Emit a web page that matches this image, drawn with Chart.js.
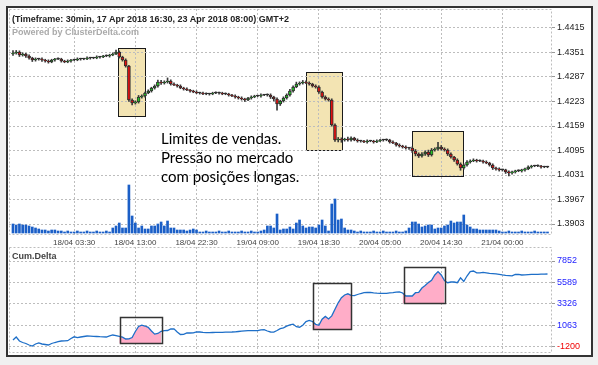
<!DOCTYPE html>
<html>
<head>
<meta charset="utf-8">
<script src="https://cdn.jsdelivr.net/npm/chart.js@4.4.1/dist/chart.umd.min.js"></script>
<style>
  html, body { margin: 0; padding: 0; background: #f0f0f0; }
  #wrap { position: relative; width: 598px; height: 365px; overflow: hidden; }
  #frame { position: absolute; left: 6px; top: 6px; width: 587px; height: 351px;
           box-sizing: border-box; border: 2px solid #333; background: #fff; }
  canvas { position: absolute; left: 0; }
  #top { top: 0; }
  #bottom { top: 240px; }
  .lbl { position: absolute; white-space: nowrap; font-family: "Liberation Sans", Arial, sans-serif;
         font-size: 9px; font-weight: bold; }
  #note { position: absolute; left: 161px; top: 129px; font-family: Lato, "Open Sans", sans-serif;
          font-size: 15px; line-height: 19px; color: #000; white-space: nowrap; }
</style>
</head>
<body>
<div id="wrap">
  <div id="frame"></div>
  <canvas id="top" width="598" height="250"></canvas>
  <canvas id="bottom" width="598" height="117"></canvas>
  <div class="lbl" style="left:12px; top:14px; color:#222;">(Timeframe: 30min, 17 Apr 2018 16:30, 23 Apr 2018 08:00) GMT+2</div>
  <div class="lbl" style="left:12px; top:27px; color:#aaa;">Powered by ClusterDelta.com</div>
  <div class="lbl" style="left:12px; top:251px; color:#444;">Cum.Delta</div>
  <div id="note">Limites de vendas.<br>Pressão no mercado<br>com posições longas.</div>
</div>
<script>
// time axis labels (bar index -> label)
const xTickIdx = [19, 38, 57, 76, 95, 114, 133, 152];
const xTickLabels = ["18/04 03:30", "18/04 13:00", "18/04 22:30", "19/04 09:00",
                     "19/04 18:30", "20/04 05:00", "20/04 14:30", "21/04 00:00"];
const priceTicks = [1.3903, 1.3967, 1.4031, 1.4095, 1.4159, 1.4223, 1.4287, 1.4351, 1.4415];
const deltaTicks = [-1200, 1063, 3326, 5589, 7852];

// 30 min candles
const firstOpen = 1.43471;
const closes = [
  1.43497,1.43523,1.43445,1.43471,1.43419,1.43366,1.43314,1.43340,1.43340,1.43314,
  1.43288,1.43262,1.43314,1.43340,1.43340,1.43288,1.43262,1.43288,1.43314,1.43314,
  1.43340,1.43340,1.43340,1.43366,1.43366,1.43366,1.43393,1.43393,1.43419,1.43419,
  1.43445,1.43471,1.43523,1.43393,1.43314,1.43157,1.42270,1.42192,1.42218,1.42348,
  1.42374,1.42453,1.42505,1.42583,1.42635,1.42740,1.42714,1.42740,1.42766,1.42687,
  1.42661,1.42635,1.42583,1.42557,1.42531,1.42505,1.42479,1.42453,1.42453,1.42426,
  1.42426,1.42426,1.42453,1.42453,1.42453,1.42426,1.42426,1.42400,1.42374,1.42348,
  1.42322,1.42296,1.42270,1.42322,1.42348,1.42374,1.42374,1.42400,1.42400,1.42400,
  1.42348,1.42296,1.42166,1.42244,1.42322,1.42400,1.42505,1.42609,1.42687,1.42714,
  1.42740,1.42714,1.42687,1.42635,1.42609,1.42479,1.42348,1.42296,1.42270,1.41616,
  1.41224,1.41251,1.41224,1.41251,1.41224,1.41277,1.41224,1.41198,1.41198,1.41172,
  1.41198,1.41198,1.41172,1.41198,1.41224,1.41224,1.41224,1.41172,1.41146,1.41094,
  1.41068,1.41042,1.41016,1.41016,1.40937,1.40859,1.40807,1.40859,1.40911,1.40833,
  1.40963,1.40990,1.41042,1.40990,1.40963,1.40859,1.40781,1.40703,1.40598,1.40494,
  1.40572,1.40650,1.40677,1.40703,1.40677,1.40677,1.40650,1.40624,1.40572,1.40494,
  1.40468,1.40442,1.40442,1.40390,1.40364,1.40390,1.40416,1.40416,1.40442,1.40468,
  1.40520,1.40546,1.40546,1.40546,1.40520,1.40520,1.40520];
// wick lengths in pips above / below the body
const wickUp = [
  6,4,3,3,2,3,2,3,2,3, 2,3,2,2,3,2,2,3,2,2, 3,2,2,3,2,2,3,2,2,3, 2,3,5,3,2,3,2,3,3,4,
  3,2,3,2,3,5,4,3,8,3, 3,2,3,2,3,2,2,3,2,2, 3,2,2,3,2,2,3,2,2,3, 2,3,2,2,3,2,2,3,2,3,
  3,2,3,2,3,3,4,3,5,3, 4,3,3,2,3,3,2,3,3,3, 3,4,3,2,5,3,2,3,2,2, 3,2,2,3,2,2,3,2,3,2,
  3,2,3,2,3,4,3,4,3,5, 4,3,12,4,3,3,3,2,3,3, 3,4,3,3,2,3,2,3,2,3, 2,3,2,2,3,2,2,3,2,2,
  3,2,2,3,2,2,2];
const wickDn = [
  4,3,4,3,4,3,4,3,3,4, 3,3,2,3,2,3,2,2,3,2, 2,3,2,2,3,2,2,3,2,2, 3,2,2,3,3,3,4,5,3,3,
  3,3,2,3,3,3,4,3,3,3, 2,3,2,3,2,3,2,2,3,2, 2,3,2,2,3,2,2,3,2,3, 3,3,4,2,3,2,2,3,2,3,
  4,5,16,4,3,3,3,3,2,3, 3,2,3,3,3,4,3,3,3,3, 4,5,6,3,3,3,2,3,3,2, 3,2,3,2,2,3,2,3,2,3,
  3,3,3,4,4,5,4,3,4,4, 3,3,3,3,3,4,3,4,3,6, 3,3,3,2,3,2,3,2,3,4, 3,3,3,4,8,3,3,2,3,3,
  2,3,2,2,3,2,2];
const volumes = [
  180,160,180,160,160,140,120,100,80,60, 60,40,60,60,40,40,20,40,20,20,
  40,20,20,40,20,20,40,20,20,40, 20,100,140,200,100,100,960,340,200,100,
  140,80,80,140,140,180,220,140,240,100, 100,60,60,60,40,60,80,60,20,20,
  40,20,20,20,40,20,20,40,20,20, 20,40,20,20,40,20,20,40,60,140,
  140,100,380,60,80,80,120,80,200,260, 140,100,120,120,100,160,260,140,40,580,
  680,260,280,100,60,60,40,20,40,20, 20,20,40,20,20,40,20,20,20,40,
  20,20,40,100,220,220,180,120,140,160, 160,80,100,100,140,160,240,200,220,220,
  360,160,120,80,80,60,60,60,60,60, 60,40,20,20,40,20,20,20,40,20,
  20,20,40,20,20,20,20];
const cumDelta = [
  -464,-148,-569,-727,-832,-990,-1095,-884,-779,-884,
  -937,-990,-832,-727,-642,-569,-548,-537,-306,-127,
  -211,-148,-95,-42,-63,-85,-95,-116,-127,-148,
  -42,63,0,-74,-169,-358,-337,-200,431,958,
  1094,1010,873,484,158,221,452,516,537,695,
  716,379,116,126,273,273,284,400,379,337,
  305,316,326,337,347,347,358,368,379,400,
  431,463,495,516,516,516,516,610,620,484,
  379,358,537,737,821,1000,1137,1210,937,884,
  1094,1473,1600,1484,1189,1084,1726,2021,1758,2073,
  2779,3452,3989,4273,4400,4231,4210,4326,4431,4515,
  4536,4557,4505,4463,4452,4452,4452,4494,4526,4568,
  4610,4484,4168,4168,4168,4515,4557,5010,5284,5579,
  5810,6379,6736,6379,5789,5568,5642,5642,5568,6085,
  5695,6273,6726,6800,6600,6610,6663,6610,6557,6526,
  6494,6442,6389,6347,6315,6284,6431,6442,6378,6399,
  6420,6442,6452,6452,6463,6473,6484];

// highlighted zones (bar index range, value range)
const priceBoxes = [
  { from: 32.6, to: 41.0, low: 1.41853, high: 1.43628 },
  { from: 91.0, to: 102.3, low: 1.40963, high: 1.43001 },
  { from: 123.9, to: 139.8, low: 1.40283, high: 1.41461 }
];
const deltaBoxes = [
  { from: 33.2, to: 46.3, low: -811, high: 1989 },
  { from: 93.2, to: 104.9, low: 662, high: 5503 },
  { from: 121.4, to: 134.2, low: 3400, high: 7188 }
];

Chart.defaults.font.family = "'Liberation Sans', Arial, sans-serif";
Chart.defaults.font.size = 9;

const opens = closes.map((c, i) => (i === 0 ? firstOpen : closes[i - 1]));
const PIP = 0.0001;
const GRID = '#bdbdbd';

function xAxis(showLabels) {
  return {
    type: 'linear', min: -1.24, max: 167.4, offset: false,
    grid: { color: GRID, offset: false, drawTicks: false },
    border: { display: false, dash: [2, 2] },
    afterBuildTicks: s => { s.ticks = xTickIdx.map(v => ({ value: v })); },
    afterFit: s => { s.height = showLabels ? 15 : 0; s.paddingLeft = 0; s.paddingRight = 0; },
    ticks: {
      display: showLabels, autoSkip: false, maxRotation: 0, padding: 3,
      color: '#444', font: { size: 8 },
      callback: v => xTickLabels[xTickIdx.indexOf(v)]
    }
  };
}

function yRight(min, max, values, fmt, color) {
  return {
    type: 'linear', position: 'right', min, max,
    grid: { color: GRID, drawTicks: true, tickLength: 3, tickColor: '#999' },
    border: { display: false, dash: [2, 2] },
    afterBuildTicks: s => { s.ticks = values.map(v => ({ value: v })); },
    afterFit: s => { s.width = 46; s.paddingTop = 0; s.paddingBottom = 0; },
    ticks: { padding: 2, color, callback: fmt }
  };
}

function frameRect(ctx, a) {
  ctx.save();
  ctx.setLineDash([2, 2]);
  ctx.strokeStyle = GRID;
  ctx.lineWidth = 1;
  ctx.strokeRect(a.left + 0.5, a.top + 0.5, a.width - 1, a.height - 1);
  ctx.restore();
}

function boxPx(b, x, y) {
  const l = Math.round(x.getPixelForValue(b.from));
  const r = Math.round(x.getPixelForValue(b.to));
  const t = Math.round(y.getPixelForValue(b.high));
  const bt = Math.round(y.getPixelForValue(b.low));
  return { l, r, t, bt };
}

const priceZones = {
  id: 'priceZones',
  beforeDraw(chart) {
    const { ctx, chartArea, scales: { x, y } } = chart;
    ctx.save();
    priceBoxes.forEach(b => {
      const p = boxPx(b, x, y);
      ctx.fillStyle = '#f3e4b3';
      ctx.fillRect(p.l, p.t, p.r - p.l, p.bt - p.t);
      ctx.strokeStyle = '#1a1a1a';
      ctx.lineWidth = 1;
      ctx.strokeRect(p.l + 0.5, p.t + 0.5, p.r - p.l, p.bt - p.t);
    });
    ctx.restore();
    frameRect(ctx, chartArea);
  }
};

const deltaZones = {
  id: 'deltaZones',
  beforeDraw(chart) { frameRect(chart.ctx, chart.chartArea); },
  afterDatasetsDraw(chart) {
    const { ctx, scales: { x, y } } = chart;
    ctx.save();
    deltaBoxes.forEach(b => {
      const p = boxPx(b, x, y);
      ctx.strokeStyle = '#333';
      ctx.lineWidth = 1.5;
      ctx.strokeRect(p.l + 0.5, p.t + 0.5, p.r - p.l, p.bt - p.t);
    });
    ctx.restore();
  }
};

const bodyColors = closes.map((c, i) => c > opens[i] ? '#22c422' : (c < opens[i] ? '#e01010' : '#333'));

new Chart(document.getElementById('top'), {
  type: 'bar',
  data: {
    datasets: [
      {
        label: 'Body', order: 1, grouped: false, barThickness: 3, minBarLength: 1,
        borderSkipped: false, borderWidth: 1, borderColor: '#2e2e2e',
        backgroundColor: bodyColors, yAxisID: 'y',
        data: closes.map((c, i) => ({ x: i, y: [opens[i], c] }))
      },
      {
        label: 'Wick', order: 2, grouped: false, barThickness: 1,
        borderSkipped: false, backgroundColor: '#3a3a3a', yAxisID: 'y',
        data: closes.map((c, i) => ({
          x: i,
          y: [Math.min(opens[i], c) - wickDn[i] * PIP, Math.max(opens[i], c) + wickUp[i] * PIP]
        }))
      },
      {
        label: 'Volume', order: 3, grouped: false, barThickness: 2,
        backgroundColor: '#1b5fc7', yAxisID: 'yVol',
        data: volumes.map((v, i) => ({ x: i, y: v }))
      }
    ]
  },
  options: {
    responsive: false, animation: false,
    layout: { padding: { left: 9, top: 9, right: 0, bottom: 0 } },
    plugins: { legend: { display: false }, tooltip: { enabled: false } },
    scales: {
      x: xAxis(true),
      y: yRight(1.38743, 1.44646, priceTicks, v => v.toFixed(4), '#222'),
      yVol: { type: 'linear', display: false, min: -40, max: 4480 }
    }
  },
  plugins: [priceZones]
});

const zoneFills = deltaBoxes.map(b => {
  const a = Math.round(b.from), z = Math.round(b.to);
  return {
    label: 'zone', order: 2, borderWidth: 0, pointRadius: 0, spanGaps: false,
    backgroundColor: '#ffadc8', fill: { value: b.low },
    data: cumDelta.map((v, i) => ({ x: i, y: i >= a && i <= z ? v : null }))
  };
});

new Chart(document.getElementById('bottom'), {
  type: 'line',
  data: {
    datasets: [
      {
        label: 'Cum.Delta', order: 1, borderColor: '#1e6fc8', borderWidth: 1.3,
        pointRadius: 0, fill: false, tension: 0,
        data: cumDelta.map((v, i) => ({ x: i, y: v }))
      },
      ...zoneFills
    ]
  },
  options: {
    responsive: false, animation: false,
    layout: { padding: { left: 9, top: 7, right: 0, bottom: 4 } },
    plugins: { legend: { display: false }, tooltip: { enabled: false } },
    scales: {
      x: xAxis(false),
      y: yRight(-1832, 9326, deltaTicks, v => String(v),
                c => (c.tick && c.tick.value < 0 ? '#f00000' : '#2323ff'))
    }
  },
  plugins: [deltaZones]
});
</script>
</body>
</html>
